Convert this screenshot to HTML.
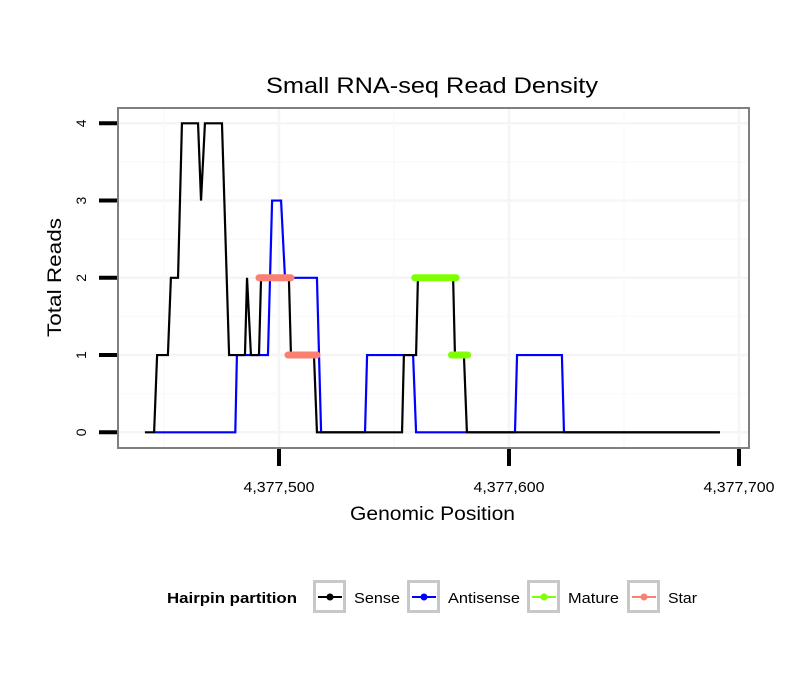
<!DOCTYPE html>
<html><head><meta charset="utf-8">
<style>
body{margin:0;background:#fff;}
svg text{font-family:"Liberation Sans",sans-serif;}
</style></head>
<body>
<svg width="810" height="690" viewBox="0 0 810 690" xmlns="http://www.w3.org/2000/svg">
<g id="grid"></g>
<g id="series"></g>
<rect x="118" y="108" width="631" height="340" fill="none" stroke="#7f7f7f" stroke-width="2"/>
<g id="axes"></g>
<text x="266" y="93" font-size="22" textLength="332" lengthAdjust="spacingAndGlyphs">Small RNA-seq Read Density</text>
<text x="350" y="520" font-size="19" textLength="165" lengthAdjust="spacingAndGlyphs">Genomic Position</text>
<text transform="translate(61,337) rotate(-90)" font-size="19" textLength="119" lengthAdjust="spacingAndGlyphs">Total Reads</text>
<g>
<text x="167" y="603" font-size="15" font-weight="bold" textLength="130" lengthAdjust="spacingAndGlyphs">Hairpin partition</text>
<g id="legend"></g>
</g>
</svg>
<script>
const sensePos=[-58.3,-54.3,-53,-48.3,-47,-43.9,-42.2,-35.2,-33.9,-32.2,-24.8,-21.7,-14.8,-13.9,-12.2,-8.7,-7.8,4.3,5.2,15.2,16.5,53.5,54.3,59.6,60.4,75.7,76.5,80.4,81.7,191.7];
const senseVal=[0,0,1,1,2,2,4,4,3,4,4,1,1,2,1,1,2,2,1,1,0,0,1,1,2,2,1,1,0,0];
const antiPos=[-54.3,-19,-18.3,-4.8,-3,0.9,2.6,16.5,18.3,37.4,38.3,58.3,59.6,102.6,103.5,123,123.9,191.7];
const antiVal=[0,0,1,1,3,3,2,2,0,0,1,1,0,0,1,1,0,0];
const starSegs=[[-8.7,5.2,2],[3.9,16.5,1]];
const matureSegs=[[59,77,2],[75,82,1]];
const xTicks=[4377500,4377600,4377700];
const xTickLabels=["4,377,500","4,377,600","4,377,700"];
const yTicks=[0,1,2,3,4];
const base=4377500;
const NS="http://www.w3.org/2000/svg";
function X(v){return 279+v*2.3;}
function Y(v){return 432.3-v*77.25;}
function mk(tag,attrs,parent){const e=document.createElementNS(NS,tag);for(const k in attrs)e.setAttribute(k,attrs[k]);document.getElementById(parent).appendChild(e);return e;}
for(let v=0;v<=4;v+=0.5){const e=mk('line',{x1:118,x2:749,y1:Y(v),y2:Y(v),stroke:v%1?'#fafafa':'#f5f5f5','stroke-width':v%1?1.5:2.5},'grid');

}
for(let v=-50;v<=200;v+=50){const e=mk('line',{x1:X(v),x2:X(v),y1:108,y2:448,stroke:v%100?'#fafafa':'#f5f5f5','stroke-width':v%100?1.5:2.5},'grid');

}
function pts(p,v){return p.map((x,i)=>X(x)+','+Y(v[i])).join(' ');}
let e=mk('polyline',{points:pts(antiPos,antiVal),fill:'none',stroke:'#0000ff','stroke-width':2.2},'series');


e=mk('polyline',{points:pts(sensePos,senseVal),fill:'none',stroke:'#000','stroke-width':2.2},'series');


starSegs.forEach(s=>{const l=mk('line',{x1:X(s[0]),x2:X(s[1]),y1:Y(s[2]),y2:Y(s[2]),stroke:'#fa8072','stroke-width':7,'stroke-linecap':'round'},'series');

});
matureSegs.forEach(s=>{const l=mk('line',{x1:X(s[0]),x2:X(s[1]),y1:Y(s[2]),y2:Y(s[2]),stroke:'#7fff00','stroke-width':7,'stroke-linecap':'round'},'series');

});
yTicks.forEach(v=>{const t=mk('line',{x1:99,x2:117,y1:Y(v),y2:Y(v),stroke:'#000','stroke-width':4},'axes');


const l=mk('text',{transform:`translate(86,${Y(v)}) rotate(-90)`,'font-size':14,'text-anchor':'middle'},'axes');l.textContent=v;

});
xTicks.forEach((v,i)=>{const t=mk('line',{x1:X(v-base),x2:X(v-base),y1:449,y2:466,stroke:'#000','stroke-width':4},'axes');


const l=mk('text',{x:X(v-base)-35.5,y:492,'font-size':15,textLength:71,lengthAdjust:'spacingAndGlyphs'},'axes');l.textContent=xTickLabels[i];

});
const legNames=["Sense","Antisense","Mature","Star"];
const legColors=["#000000","#0000ff","#7fff00","#fa8072"];
const legX=[313,407,527,627];
const legTextW=[46,72,51,29];
legNames.forEach((n,i)=>{const x=legX[i];
const r=mk('rect',{x:x+1.5,y:581.5,width:30,height:30,fill:'#fff',stroke:'#c8c8c8','stroke-width':3},'legend');


mk('line',{x1:x+5,x2:x+29,y1:597,y2:597,stroke:legColors[i],'stroke-width':2},'legend');
mk('circle',{cx:x+17,cy:597,r:3.5,fill:legColors[i]},'legend');
const t=mk('text',{x:x+41,y:603,'font-size':15,textLength:legTextW[i],lengthAdjust:'spacingAndGlyphs'},'legend');t.textContent=n;

});
</script>
</body></html>
